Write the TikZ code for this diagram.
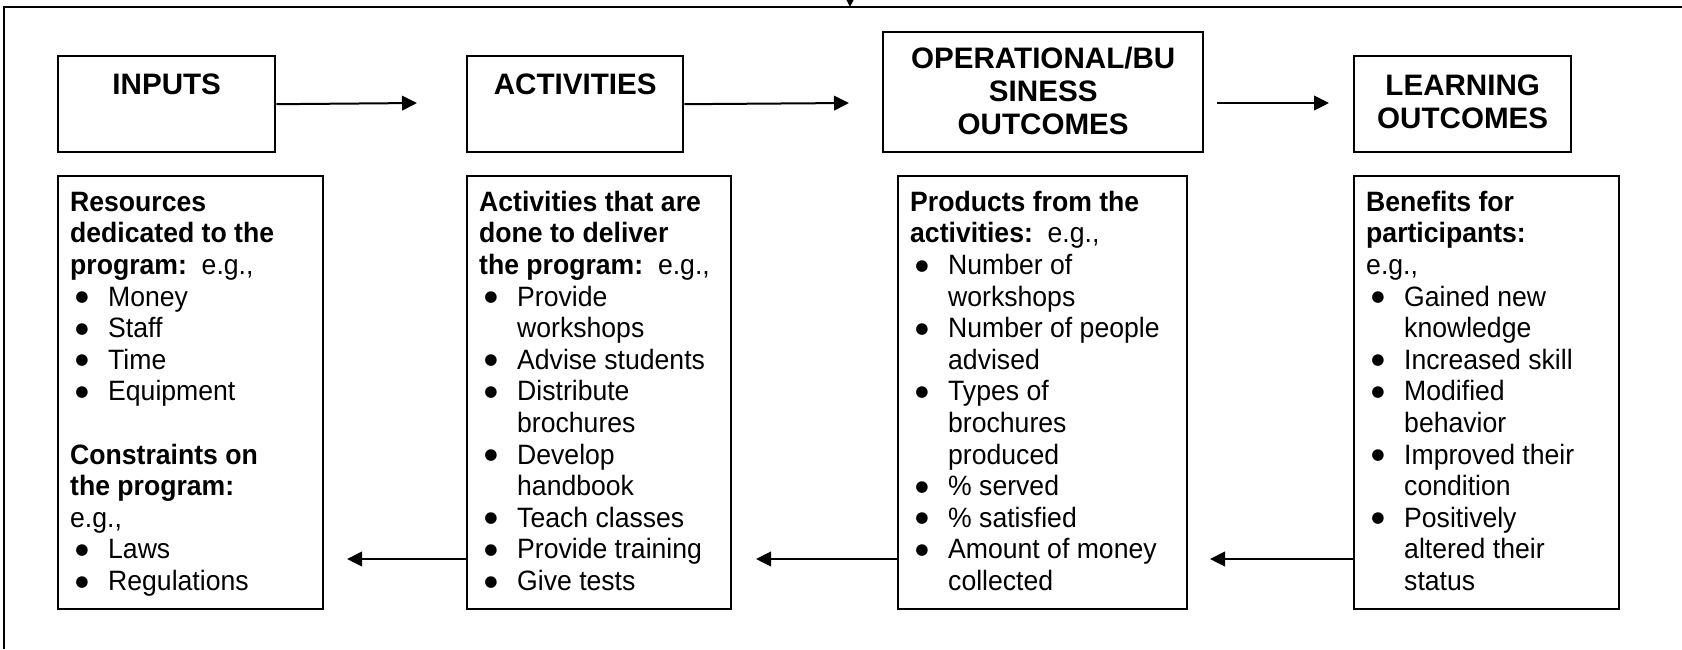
\documentclass[tikz,border=0pt]{standalone}
\usepackage{fontspec}
\setmainfont{Liberation Sans}
\newfontfamily\bodyfont[FakeStretch=0.95]{Liberation Sans}
\newfontfamily\dotfont{DejaVu Sans}
\usetikzlibrary{arrows.meta}
\tikzstyle{frame}=[line width=1.2pt]
\tikzstyle{hbox}=[draw, line width=1.2pt, inner sep=0pt, anchor=north west]
\tikzstyle{dbox}=[hbox, inner xsep=6pt]
\tikzstyle{arr}=[line width=1pt, -{Triangle[length=7.5pt, width=7.3pt]}]
\newcommand{\hdr}[4]{\parbox[c][#2][t]{#1}{\centering\fontsize{14.8pt}{16.5pt}\selectfont\bfseries\rule{0pt}{#3}#4}}
\newcommand{\dtl}[2]{\parbox[c][216.5pt][t]{#1}{\raggedright\bodyfont\fontsize{14pt}{15.8pt}\selectfont\rule{0pt}{17.5pt}#2}}
\newcommand{\itm}{\makebox[19pt][l]{\hspace{2.6pt}\raisebox{2.2pt}{\dotfont\fontsize{7.6pt}{8pt}\selectfont ●}}}
\newcommand{\cnt}{\hspace*{19pt}}

\begin{document}
\begin{tikzpicture}[x=0.5pt, y=-0.5pt]
        \useasboundingbox (0,0) rectangle (1682,649);
        \clip (0,0) rectangle (1682,649);
        \draw[frame] (4,649) -- (4,7) -- (1682,7);
        \draw[arr] (850,-12) -- (850,7);

        \node[hbox] (inp) at (57,55)   {\hdr{108.5pt}{48pt}{19pt}{INPUTS}};
        \node[hbox] (act) at (466,55)  {\hdr{108pt}{48pt}{19pt}{ACTIVITIES}};
        \node[hbox] (ops) at (882,31)  {\hdr{160pt}{60pt}{18pt}{OPERATIONAL/BU\\SINESS\\OUTCOMES}};
        \node[hbox] (lrn) at (1353,55) {\hdr{108.5pt}{48pt}{19.5pt}{LEARNING\\OUTCOMES}};

        \node[dbox] (inpD) at (57,175) {\dtl{120.5pt}{%
            \textbf{Resources}\\
            \textbf{dedicated to the}\\
            \textbf{program:}\ \ e.g.,\\
            \itm Money\\
            \itm Staff\\
            \itm Time\\
            \itm Equipment\\[15.8pt]
            \textbf{Constraints on}\\
            \textbf{the program:}\\
            e.g.,\\
            \itm Laws\\
            \itm Regulations}};
        \node[dbox] (actD) at (466,175) {\dtl{120pt}{%
            \textbf{Activities that are}\\
            \textbf{done to deliver}\\
            \textbf{the program:}\ \ e.g.,\\
            \itm Provide\\
            \cnt workshops\\
            \itm Advise students\\
            \itm Distribute\\
            \cnt brochures\\
            \itm Develop\\
            \cnt handbook\\
            \itm Teach classes\\
            \itm Provide training\\
            \itm Give tests}};
        \node[dbox] (opsD) at (897,175) {\dtl{132.5pt}{%
            \textbf{Products from the}\\
            \textbf{activities:}\ \ e.g.,\\
            \itm Number of\\
            \cnt workshops\\
            \itm Number of people\\
            \cnt advised\\
            \itm Types of\\
            \cnt brochures\\
            \cnt produced\\
            \itm \% served\\
            \itm \% satisfied\\
            \itm Amount of money\\
            \cnt collected}};
        \node[dbox] (lrnD) at (1353,175) {\dtl{120.5pt}{%
            \textbf{Benefits for}\\
            \textbf{participants:}\\
            e.g.,\\
            \itm Gained new\\
            \cnt knowledge\\
            \itm Increased skill\\
            \itm Modified\\
            \cnt behavior\\
            \itm Improved their\\
            \cnt condition\\
            \itm Positively\\
            \cnt altered their\\
            \cnt status}};

        \coordinate (t1) at (417,103);
        \coordinate (t2) at (849,103);
        \coordinate (t3s) at (1217,103);
        \coordinate (t3) at (1329,103);
        \coordinate (b1) at (347,559);
        \coordinate (b2) at (756,559);
        \coordinate (b3) at (1210,559);
        \draw[arr] (inp.east) -- (t1);
        \draw[arr] (act.east) -- (t2);
        \draw[arr] (t3s) -- (t3);
        \draw[arr] (actD.west |- b1) -- (b1);
        \draw[arr] (opsD.west |- b2) -- (b2);
        \draw[arr] (lrnD.west |- b3) -- (b3);
    \end{tikzpicture}
\end{document}
